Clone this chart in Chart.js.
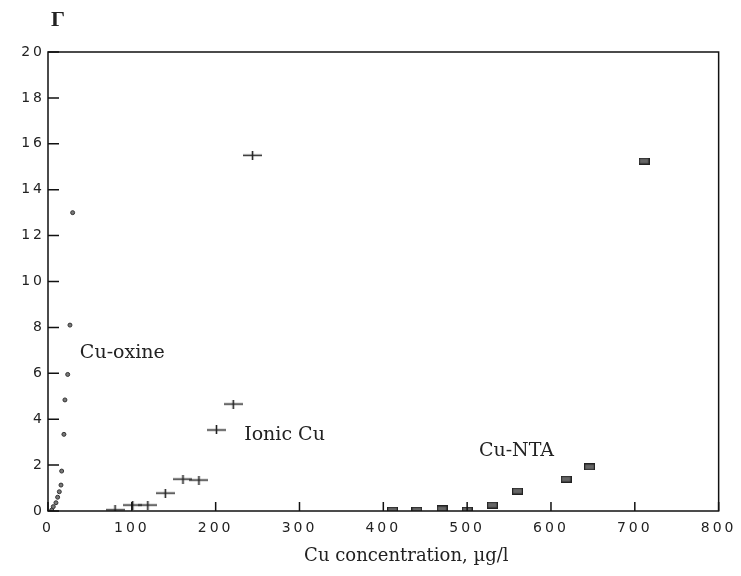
<!DOCTYPE html>
<html lang="en">
<head>
<meta charset="UTF-8">
<title>Gamma vs Cu concentration</title>
<script src="https://cdn.jsdelivr.net/npm/chart.js"></script>
<style>
  html, body { margin: 0; padding: 0; background: #fff; }
  #chartContainer { width: 741px; height: 576px; }
</style>
</head>
<body>
<div id="chartContainer"><canvas id="gammaChart"></canvas></div>
<script>
// Cu-oxine (small dots)
const oxineX = [4.4, 6.3, 9.5, 11.5, 13.5, 15.5, 16.3, 19, 20.2, 23.5, 26.2, 29.4];
const oxineY = [0.04, 0.19, 0.36, 0.6, 0.84, 1.13, 1.74, 3.34, 4.84, 5.95, 8.1, 13.0];
// Ionic Cu (crosses)
const ionicX = [80, 101, 119, 140, 161, 180, 201, 221, 244];
const ionicY = [0.05, 0.26, 0.26, 0.78, 1.39, 1.35, 3.53, 4.66, 15.5];
// Cu-NTA (squares)
const ntaX = [411, 440, 470, 500, 530, 560, 618, 646, 711];
const ntaY = [0.04, 0.04, 0.09, 0.04, 0.26, 0.87, 1.39, 1.92, 15.25];

const xTicks = [0, 100, 200, 300, 400, 500, 600, 700, 800];
const yTicks = [0, 2, 4, 6, 8, 10, 12, 14, 16, 18, 20];

const toPoints = (xs, ys) => xs.map((v, i) => ({ x: v, y: ys[i] }));

// marker images
function crossMark() {
    const c = document.createElement('canvas');
    c.width = 19; c.height = 9;
    const g = c.getContext('2d');
    g.strokeStyle = '#222';
    g.lineWidth = 1.6;
    g.beginPath();
    g.moveTo(0, 4.5); g.lineTo(19, 4.5);
    g.moveTo(9.5, 0); g.lineTo(9.5, 9);
    g.stroke();
    return c;
}
function squareMark() {
    const c = document.createElement('canvas');
    c.width = 11; c.height = 7;
    const g = c.getContext('2d');
    g.fillStyle = '#666';
    g.fillRect(0, 0, 11, 7);
    g.strokeStyle = '#222';
    g.lineWidth = 1.2;
    g.strokeRect(0.6, 0.6, 9.8, 5.8);
    return c;
}

// frame, inward ticks and text labels
const decor = {
    id: 'decor',
    beforeDraw(chart) { chart.ctx.letterSpacing = '0px'; },
    afterDatasetsDraw(chart) { chart.ctx.letterSpacing = '3px'; },
    afterDraw(chart) {
        const { ctx, chartArea: a, scales: { x, y } } = chart;
        ctx.save();
        ctx.letterSpacing = '0px';
        ctx.strokeStyle = '#111';
        ctx.lineWidth = 1.5;
        ctx.strokeRect(a.left, a.top, a.right - a.left, a.bottom - a.top);
        ctx.beginPath();
        yTicks.forEach(v => {
            const p = y.getPixelForValue(v);
            ctx.moveTo(a.left, p); ctx.lineTo(a.left + 11, p);
        });
        xTicks.forEach(v => {
            const p = x.getPixelForValue(v);
            ctx.moveTo(p, a.bottom); ctx.lineTo(p, a.bottom - 9);
        });
        ctx.stroke();

        ctx.fillStyle = '#222';
        ctx.textBaseline = 'middle';
        ctx.textAlign = 'left';
        ctx.font = '19px "DejaVu Serif"';
        ctx.fillText('Cu-oxine', x.getPixelForValue(38), y.getPixelForValue(6.9));
        ctx.fillText('Ionic Cu', x.getPixelForValue(234), y.getPixelForValue(3.3));
        ctx.fillText('Cu-NTA', x.getPixelForValue(514), y.getPixelForValue(2.6));

        ctx.textAlign = 'center';
        ctx.font = '18px "DejaVu Serif"';
        ctx.fillText('Cu concentration, µg/l', (a.left + a.right) / 2 + 23, 556);
        ctx.font = 'bold 22px "Liberation Serif"';
        ctx.fillText('Γ', a.left + 10, 20);
        ctx.restore();
    }
};

const ctx = document.getElementById('gammaChart').getContext('2d');
new Chart(ctx, {
    type: 'scatter',
    data: {
        datasets: [
            {
                label: 'Cu-oxine',
                data: toPoints(oxineX, oxineY),
                pointStyle: 'circle',
                pointRadius: 2,
                backgroundColor: '#777',
                borderColor: '#333',
                borderWidth: 1
            },
            {
                label: 'Ionic Cu',
                data: toPoints(ionicX, ionicY),
                pointStyle: crossMark()
            },
            {
                label: 'Cu-NTA',
                data: toPoints(ntaX, ntaY),
                pointStyle: squareMark()
            }
        ]
    },
    options: {
        responsive: true,
        maintainAspectRatio: false,
        animation: false,
        layout: { padding: { left: 0, right: 21, top: 52, bottom: 0 } },
        plugins: {
            legend: { display: false },
            tooltip: { enabled: false }
        },
        scales: {
            x: {
                type: 'linear',
                min: 0,
                max: 800,
                grid: { display: false, drawTicks: false },
                border: { display: false },
                afterBuildTicks: s => { s.ticks = xTicks.map(v => ({ value: v })); },
                afterFit: s => { s.height = 65; },
                ticks: {
                    z: 1,
                    padding: 9,
                    maxRotation: 0,
                    color: '#222',
                    font: { family: 'DejaVu Sans', size: 14 }
                }
            },
            y: {
                type: 'linear',
                min: 0,
                max: 20,
                grid: { display: false, drawTicks: false },
                border: { display: false },
                afterBuildTicks: s => { s.ticks = yTicks.map(v => ({ value: v })); },
                afterFit: s => { s.width = 48; },
                ticks: {
                    z: 1,
                    padding: 3,
                    color: '#222',
                    font: { family: 'DejaVu Sans', size: 14 }
                }
            }
        }
    },
    plugins: [decor]
});
</script>
</body>
</html>
